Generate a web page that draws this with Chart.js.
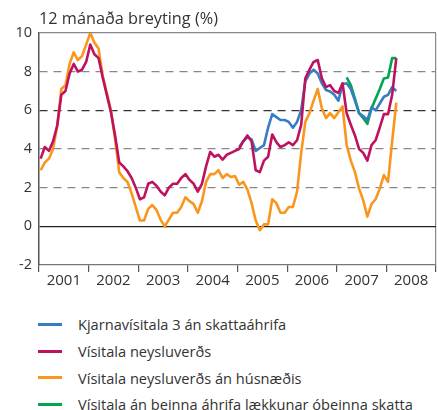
<!DOCTYPE html>
<html lang="is">
<head>
<meta charset="utf-8">
<title>12 mánaða breyting</title>
<script src="https://cdn.jsdelivr.net/npm/chart.js@4.4.1/dist/chart.umd.min.js"></script>
<style>
  body { margin: 0; background: #fff; font-family: "Open Sans", sans-serif; color: #333; }
  #wrap { position: relative; width: 438px; height: 295px; }
  #legend { list-style: none; margin: 0; padding: 0; position: absolute; left: 0; top: 311px; }
  #legend li { height: 26.7px; display: flex; align-items: center; font-size: 14.6px; white-space: nowrap; }
  #legend .swatch { display: inline-block; width: 24px; height: 3px; margin-left: 38px; margin-right: 16px; }
</style>
</head>
<body>
<div id="wrap"><canvas id="chart" width="438" height="295"></canvas></div>
<ul id="legend"></ul>
<script>
// mánaðargögn, jan. 2001 - mars 2008 (12 mánaða breyting, %)
const years = ['2001', '2002', '2003', '2004', '2005', '2006', '2007', '2008'];

// Vísitala neysluverðs
const cpi = [
    3.5, 4.1, 3.9, 4.4, 5.2, 6.8, 7.0, 7.9, 8.4, 8.0, 8.1, 8.5,
    9.4, 8.9, 8.7, 7.7, 6.8, 5.9, 4.7, 3.3, 3.1, 2.85, 2.5, 2.0,
    1.4, 1.5, 2.2, 2.3, 2.1, 1.8, 1.6, 2.0, 2.2, 2.2, 2.5, 2.7,
    2.4, 2.2, 1.8, 2.2, 3.1, 3.85, 3.6, 3.7, 3.45, 3.7, 3.8, 3.9,
    4.0, 4.4, 4.7, 4.4, 2.9, 2.8, 3.4, 3.6, 4.75, 4.35, 4.1, 4.2,
    4.35, 4.2, 4.45, 5.25, 7.65, 8.1, 8.5, 8.6, 7.65, 7.2, 7.3, 7.0,
    6.9, 7.4, 5.85, 5.25, 4.7, 4.0, 3.8, 3.4, 4.2, 4.45, 5.1, 5.8,
    5.8, 6.8, 8.7
];

// Vísitala neysluverðs án húsnæðis
const cpiExHousing = [
    2.9, 3.3, 3.5, 4.0, 5.2, 7.1, 7.3, 8.4, 9.0, 8.6, 8.8, 9.4,
    10.0, 9.5, 9.2, 7.8, 6.9, 6.0, 4.5, 2.8, 2.5, 2.3, 1.7, 1.0,
    0.3, 0.3, 0.9, 1.1, 0.85, 0.35, 0.0, 0.35, 0.7, 0.7, 1.0, 1.5,
    1.3, 1.15, 0.7, 1.3, 2.3, 2.7, 2.7, 2.9, 2.5, 2.7, 2.55, 2.6,
    2.15, 2.3, 1.9, 1.2, 0.3, -0.2, 0.1, 0.1, 1.4, 1.2, 0.7, 0.7,
    1.0, 1.0, 1.8, 3.8, 5.4, 5.85, 6.5, 7.1, 6.1, 5.6, 5.85, 5.6,
    5.9, 6.2, 4.2, 3.4, 2.8, 1.95, 1.35, 0.5, 1.15, 1.4, 1.95, 2.65,
    2.3, 4.4, 6.4
];

// Kjarnavísitala 3 án skattaáhrifa, frá jan. 2005
const coreStart = 48;
const core3 = [
    4.1, 4.4, 4.6, 4.5, 3.9, 4.05, 4.2, 5.1, 5.8, 5.65, 5.5, 5.5,
    5.4, 5.1, 5.4, 6.0, 7.5, 7.9, 8.1, 7.9, 7.4, 7.05, 6.97, 6.8,
    6.5, 7.35, 7.4, 7.1, 6.5, 5.85, 5.7, 5.5, 6.15, 6.0, 6.35, 6.7,
    6.8, 7.2, 7.0
];

// Vísitala án beinna áhrifa lækkunar óbeinna skatta, frá mars 2007
const taxStart = 74;
const cpiExTax = [7.7, 7.3, 6.6, 5.85, 5.6, 5.3, 6.1, 6.6, 7.1, 7.65, 7.7, 8.7, 8.7];

// punktar á mánaðarás (mánuður nr. frá jan. 2001)
function toPoints(values, start) {
    return values.map((v, i) => ({ x: start + i + 0.4, y: v }));
}

const series = [
    { label: 'Kjarnavísitala 3 án skattaáhrifa', data: toPoints(core3, coreStart), color: 'rgb(55, 125, 195)', order: 1 },
    { label: 'Vísitala neysluverðs', data: toPoints(cpi, 0), color: 'rgb(190, 18, 95)', order: 0 },
    { label: 'Vísitala neysluverðs án húsnæðis', data: toPoints(cpiExHousing, 0), color: 'rgb(250, 150, 30)', order: 3 },
    { label: 'Vísitala án beinna áhrifa lækkunar óbeinna skatta', data: toPoints(cpiExTax, taxStart), color: 'rgb(0, 165, 80)', order: 2 }
];

const totalMonths = years.length * 12;

const ctx = document.getElementById('chart').getContext('2d');
const chart = new Chart(ctx, {
    type: 'line',
    data: {
        datasets: series.map(s => ({
            label: s.label,
            data: s.data,
            borderColor: s.color,
            backgroundColor: s.color,
            borderWidth: 2.6,
            pointRadius: 0,
            tension: 0,
            borderJoinStyle: 'round',
            order: s.order
        }))
    },
    options: {
        responsive: false,
        animation: false,
        layout: { padding: { top: 0, right: 2, left: 0, bottom: 0 } },
        plugins: {
            legend: { display: false },
            tooltip: { enabled: false },
            title: {
                display: true,
                text: '12 mánaða breyting (%)',
                align: 'start',
                fullSize: false,
                color: '#333',
                font: { family: '"Open Sans", sans-serif', size: 16.3, weight: 'normal' },
                padding: { top: 10, bottom: 3.4 }
            }
        },
        scales: {
            x: {
                type: 'linear',
                min: 0,
                max: totalMonths,
                afterBuildTicks: (scale) => {
                    const t = [];
                    for (let v = 0; v <= totalMonths; v += 6) t.push({ value: v });
                    scale.ticks = t;
                },
                afterFit: (scale) => { scale.height = 30; },
                ticks: {
                    autoSkip: false,
                    maxRotation: 0,
                    padding: 0,
                    color: '#333',
                    font: { family: '"Open Sans", sans-serif', size: 15 },
                    callback: (v) => (v % 12 === 6 ? years[(v - 6) / 12] : '')
                },
                grid: {
                    drawOnChartArea: true,
                    tickLength: 7,
                    lineWidth: 1.2,
                    color: (c) => (c.tick && c.tick.value === totalMonths ? '#888' : 'rgba(0,0,0,0)'),
                    tickColor: (c) => (c.tick && c.tick.value % 12 === 0 ? '#555' : 'rgba(0,0,0,0)')
                },
                border: { color: '#777', width: 1.2 }
            },
            y: {
                min: -2,
                max: 10,
                afterFit: (scale) => { scale.width = 39; },
                ticks: {
                    stepSize: 2,
                    padding: 7,
                    color: '#333',
                    font: { family: '"Open Sans", sans-serif', size: 14.5 }
                },
                grid: {
                    drawTicks: false,
                    lineWidth: 1.2,
                    color: (c) => {
                        const v = c.tick && c.tick.value;
                        if (v === 0) return '#222';
                        if (v === -2) return 'rgba(0,0,0,0)';
                        if (v === 6) return '#333';
                        return '#888';
                    }
                },
                border: {
                    color: '#555',
                    width: 1.5,
                    dash: (c) => (c.tick && c.tick.value % 10 !== 0 ? [8, 6] : [])
                }
            }
        }
    }
});

// skýringar
const legend = document.getElementById('legend');
series.forEach((s) => {
    const li = document.createElement('li');
    const sw = document.createElement('span');
    sw.className = 'swatch';
    sw.style.background = s.color;
    li.appendChild(sw);
    li.appendChild(document.createTextNode(s.label));
    legend.appendChild(li);
});
</script>
</body>
</html>
